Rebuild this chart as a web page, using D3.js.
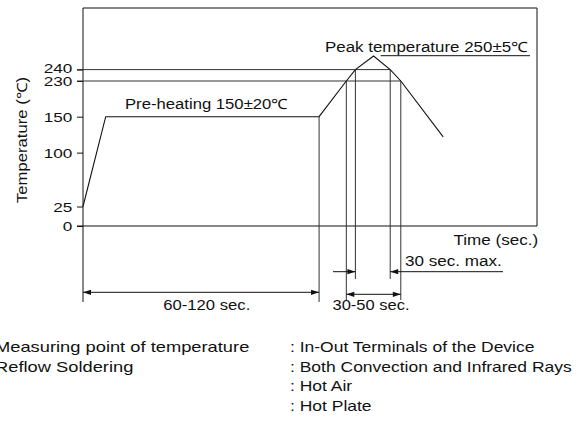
<!DOCTYPE html>
<html>
<head>
<meta charset="utf-8">
<script src="https://cdn.jsdelivr.net/npm/d3@7"></script>
<style>
  html, body { margin: 0; padding: 0; background: #fff; }
  svg { display: block; }
  text { font-family: "Liberation Sans", Arial, Helvetica, sans-serif; fill: #111; }
</style>
</head>
<body>
<script>
// ---------------- data ----------------
const yTickValues = [0, 25, 100, 150, 230, 240];
const curveTime = [0, 15, 156, 174, 180, 192, 203, 210, 238];   // schematic time
const curveTemp = [25, 150, 150, 230, 240, 250, 240, 230, 122];  // °C
const preheatTemp = 150;
const preheatEnd = 156;
const limitTemps = [240, 230];
const crossTimes240 = [180, 203];
const crossTimes230 = [174, 210];
const preheatLabel = "Pre-heating 150±20℃";
const peakLabel = "Peak temperature 250±5℃";
const yTitle = "Temperature (℃)";
const xTitle = "Time (sec.)";
const dimLabels = ["60-120 sec.", "30-50 sec.", "30 sec. max."];
const noteLabels = ["Measuring point of temperature", "Reflow Soldering", "", ""];
const noteValues = [": In-Out Terminals of the Device", ": Both Convection and Infrared Rays", ": Hot Air", ": Hot Plate"];

// ---------------- layout ----------------
const W = 578, H = 423;
const SX = 1.22;              // horizontal stretch of the reference glyphs
const INK = "#111";
const svg = d3.select("body").append("svg").attr("width", W).attr("height", H);

const x = d3.scaleLinear().domain([0, 300]).range([83, 537]);
const y = d3.scaleLinear().domain([0, 25, 150, 230, 240, 250]).range([226, 206.5, 116.7, 81, 69.6, 56]);

const plotL = x(0), plotR = x(300), plotT = 8, plotB = y(0);

function drawLine(x1, y1, x2, y2, color) {
  svg.append("line").attr("x1", x1).attr("y1", y1).attr("x2", x2).attr("y2", y2)
    .attr("stroke", color || INK).attr("stroke-width", 1);
}
function arrowHead(tx, ty, dir) { // dir: +1 points right, -1 points left
  const L = 8, w = 2.6;
  svg.append("path")
    .attr("d", `M${tx},${ty}L${tx - dir * L},${ty - w}L${tx - dir * L},${ty + w}Z`)
    .attr("fill", INK);
}

// frame
drawLine(plotL, plotT, plotR, plotT);
drawLine(plotR, plotT, plotR, plotB);
drawLine(plotL, plotT, plotL, 302);

// y axis
const yAxis = svg.append("g").attr("transform", `translate(${plotL},0)`)
  .call(d3.axisLeft(y).tickValues(yTickValues).tickSize(6).tickPadding(4).tickFormat(d3.format("d")));
yAxis.select(".domain").remove();
yAxis.selectAll(".tick line").attr("stroke", INK);
yAxis.selectAll(".tick text").attr("font-size", 13.5).attr("fill", INK)
  .attr("font-family", '"Liberation Sans", Arial, sans-serif')
  .attr("dy", d => d === 240 ? "0.24em" : "0.34em")
  .each(function () {
    const L = this.getComputedTextLength() * 1.27;
    d3.select(this).attr("text-anchor", "start").attr("x", -10.7 - L)
      .attr("textLength", L).attr("lengthAdjust", "spacingAndGlyphs");
  });

// zero line and limit lines
drawLine(plotL - 6, y(0), plotR, y(0));
limitTemps.forEach(t => {
  const endT = t === 240 ? crossTimes240[1] : crossTimes230[1];
  drawLine(plotL - 6, y(t), x(endT), y(t), "#333");
});

// profile curve
svg.append("path")
  .datum(curveTime.map((t, i) => [t, curveTemp[i]]))
  .attr("d", d3.line().x(d => x(d[0])).y(d => y(d[1])))
  .attr("fill", "none").attr("stroke", INK).attr("stroke-width", 1.1);

// vertical guide lines
drawLine(x(preheatEnd), y(preheatTemp), x(preheatEnd), 302, "#333");
crossTimes230.forEach(t => drawLine(x(t), y(230), x(t), 300, "#333"));
crossTimes240.forEach(t => drawLine(x(t), y(240), x(t), 279, "#333"));

// dimension: 60-120 sec
const d1y = 292.3;
drawLine(plotL, d1y, x(preheatEnd), d1y);
arrowHead(plotL, d1y, -1);
arrowHead(x(preheatEnd), d1y, 1);
// dimension: 30-50 sec
const d2y = 294.3;
drawLine(x(crossTimes230[0]), d2y, x(crossTimes230[1]), d2y);
arrowHead(x(crossTimes230[0]), d2y, -1);
arrowHead(x(crossTimes230[1]), d2y, 1);
// dimension: 30 sec max (outside arrows)
const d3y = 271.7;
drawLine(333, d3y, x(crossTimes240[0]), d3y);
drawLine(x(crossTimes240[1]), d3y, 503, d3y);
arrowHead(x(crossTimes240[0]), d3y, 1);
arrowHead(x(crossTimes240[1]), d3y, -1);

// labels
function label(txt, x0, yb, size, width, anchorEnd, sx) {
  const t = svg.append("text").attr("font-size", size).attr("y", yb).text(txt);
  const L = width || t.node().getComputedTextLength() * (sx || SX);
  t.attr("textLength", L).attr("lengthAdjust", "spacingAndGlyphs")
   .attr("x", anchorEnd ? x0 - L : x0);
  return t;
}
label(preheatLabel, 125, 109, 14, 163);
label(peakLabel, 325, 51.7, 14, 203);
drawLine(380.7, 55.7, 530, 55.7);
label(xTitle, 538.3, 245, 14, null, true);
label(dimLabels[2], 405, 265.7, 14);
label(dimLabels[0], 163.3, 310, 14, 87);
label(dimLabels[1], 332.5, 310, 14, 77);

// y title
svg.append("text").attr("font-size", 14)
  .attr("transform", `translate(27,140) rotate(-90)`)
  .attr("text-anchor", "middle").attr("textLength", 126).attr("lengthAdjust", "spacingAndGlyphs")
  .text(yTitle);

// notes
const noteY0 = 352, noteDy = 19.5;
noteLabels.forEach((s, i) => {
  if (s) label(s, -5, noteY0 + i * noteDy, 15, null, false, 1.22);
  label(noteValues[i], 290, noteY0 + i * noteDy, 15, null, false, 1.165);
});
</script>
</body>
</html>
